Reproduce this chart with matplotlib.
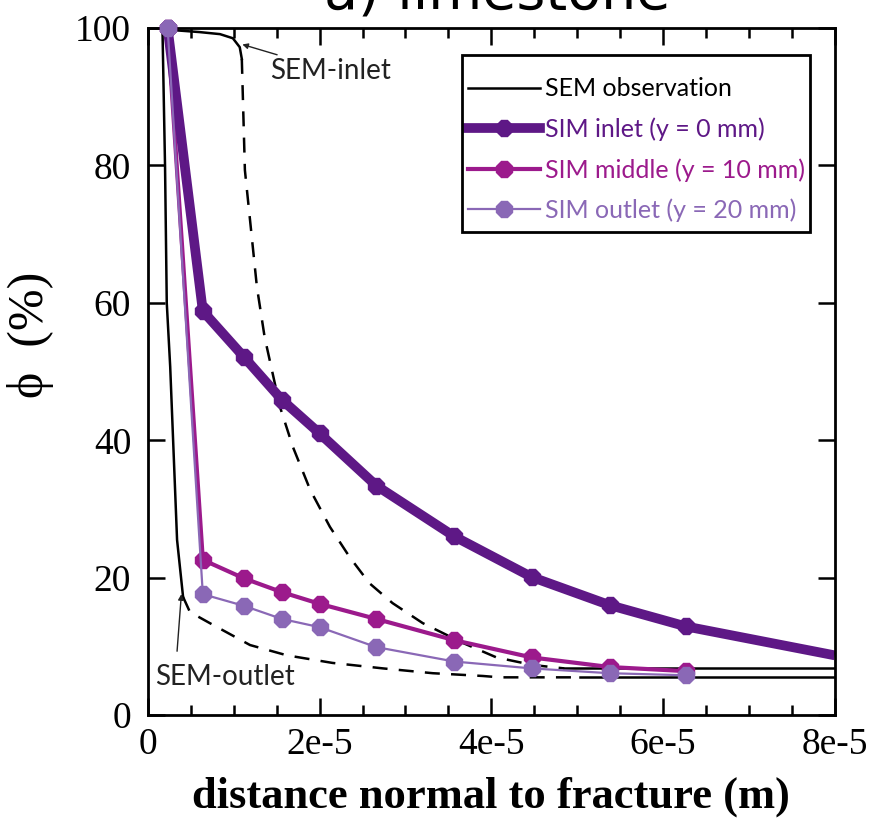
import numpy as np
import matplotlib
matplotlib.use("Agg")
import matplotlib.pyplot as plt
from matplotlib.patches import Rectangle
from matplotlib.ticker import MultipleLocator

# simulated porosity profiles (distance in m, porosity in %)
x_sim = [0.23e-5, 0.64e-5, 1.12e-5, 1.56e-5, 2.0e-5, 2.66e-5, 3.57e-5, 4.47e-5, 5.38e-5, 6.27e-5]
phi_inlet = [100, 58.8, 52.1, 45.9, 41.0, 33.4, 26.0, 20.1, 16.0, 12.9]
x_inlet_end = 8.0e-5
phi_inlet_end = 8.7
phi_middle = [100, 22.6, 19.9, 17.9, 16.2, 14.0, 10.9, 8.4, 7.0, 6.4]
phi_outlet = [100, 17.6, 15.9, 14.0, 12.8, 9.9, 7.8, 6.8, 6.1, 5.8]

# SEM observations: solid = measured part, dashed = extrapolated part
sem_in_x = [0.17e-5, 0.6e-5, 0.84e-5, 0.99e-5, 1.07e-5, 1.094e-5]
sem_in_y = [99.8, 99.4, 99.1, 98.5, 97.2, 95.5]
sem_in_dx = [1.094e-5, 1.13e-5, 1.21e-5, 1.27e-5, 1.36e-5, 1.54e-5, 1.69e-5, 1.89e-5, 2.12e-5,
             2.35e-5, 2.58e-5, 2.85e-5, 3.20e-5, 3.67e-5, 4.06e-5, 4.48e-5, 4.85e-5]
sem_in_dy = [95.5, 79.3, 69.6, 62.3, 55.0, 44.8, 39.0, 32.8, 27.4,
             23.0, 19.2, 16.3, 13.4, 10.5, 8.4, 7.3, 6.8]
sem_in_tail_x = [4.85e-5, 8.0e-5]
sem_in_tail_y = [6.8, 6.8]

sem_out_x = [0.17e-5, 0.20e-5, 0.22e-5, 0.26e-5, 0.34e-5, 0.41e-5]
sem_out_y = [99.8, 79.8, 60.0, 50.7, 25.5, 17.2]
sem_out_dx = [0.41e-5, 0.49e-5, 0.72e-5, 1.19e-5, 1.62e-5, 2.15e-5, 2.74e-5, 3.32e-5, 3.90e-5, 4.10e-5, 5.03e-5]
sem_out_dy = [17.2, 15.0, 13.4, 10.2, 8.7, 7.6, 6.8, 6.1, 5.7, 5.5, 5.5]
sem_out_tail_x = [5.03e-5, 8.0e-5]
sem_out_tail_y = [5.5, 5.5]

xticks = [0, 2e-5, 4e-5, 6e-5, 8e-5]
xticklabels = ["0", "2e-5", "4e-5", "6e-5", "8e-5"]
yticks = [0, 20, 40, 60, 80, 100]

c_inlet = "#5e1886"
c_middle = "#9c1a8c"
c_outlet = "#8a68b6"
c_note = "#222222"

serif = "Liberation Serif"
sans = "Lato"

fig = plt.figure(figsize=(8.75, 8.22), dpi=100)
ax = fig.add_axes([0.169, 0.130, 0.785, 0.836])

dash = (0, (6, 4.5))
# SEM lines
ax.plot(sem_in_x, sem_in_y, color="k", lw=1.8, label="SEM observation")
ax.plot(sem_in_dx, sem_in_dy, color="k", lw=1.8, ls=dash)
ax.plot(sem_in_tail_x, sem_in_tail_y, color="k", lw=1.8)
ax.plot(sem_out_x, sem_out_y, color="k", lw=1.8)
ax.plot(sem_out_dx, sem_out_dy, color="k", lw=1.8, ls=dash)
ax.plot(sem_out_tail_x, sem_out_tail_y, color="k", lw=1.8)

# simulations
ax.plot(x_sim[-1:] + [x_inlet_end], phi_inlet[-1:] + [phi_inlet_end], color=c_inlet, lw=7,
        solid_capstyle="butt", clip_on=False)
ax.plot(x_sim, phi_inlet, color=c_inlet, lw=7, marker="8", ms=13, label="SIM inlet (y = 0 mm)",
        clip_on=False, zorder=5)
ax.plot(x_sim, phi_middle, color=c_middle, lw=3, marker="8", ms=13, label="SIM middle (y = 10 mm)",
        clip_on=False, zorder=4)
ax.plot(x_sim, phi_outlet, color=c_outlet, lw=1.6, marker="8", ms=13, label="SIM outlet (y = 20 mm)",
        clip_on=False, zorder=6)

ax.set_xlim(0, 8e-5)
ax.set_ylim(0, 100)
ax.set_xticks(xticks)
ax.set_xticklabels(xticklabels)
ax.set_yticks(yticks)
ax.xaxis.set_minor_locator(MultipleLocator(0.5e-5))
ax.tick_params(which="both", direction="in", top=True, right=True, width=1.8, labelsize=27)
ax.tick_params(axis="x", pad=9)
ax.tick_params(axis="y", pad=12)
ax.tick_params(which="major", length=12)
ax.tick_params(which="minor", length=7)
for lab in ax.get_xticklabels() + ax.get_yticklabels():
    lab.set_fontfamily(serif)
for s in ax.spines.values():
    s.set_linewidth(2)

ax.set_xlabel("distance normal to fracture (m)", fontfamily=serif, fontweight="bold", fontsize=32, labelpad=10)
ax.set_ylabel("ϕ  (%)", fontfamily=serif, fontsize=36)
ax.yaxis.set_label_coords(-0.136, 0.553)

# legend: entries without frame, box drawn separately (wider vertical padding than horizontal)
leg = ax.legend(loc="upper left", bbox_to_anchor=(0.466, 0.928), prop={"family": sans, "size": 18},
                frameon=False, handlelength=2.9, handletextpad=0.2,
                borderpad=0, labelspacing=0.68, borderaxespad=0)
for txt, col in zip(leg.get_texts(), ["k", c_inlet, c_middle, c_outlet]):
    txt.set_color(col)
ax.add_patch(Rectangle((0.457, 0.703), 0.507, 0.258, transform=ax.transAxes, fill=False,
                       edgecolor="k", lw=2, zorder=7))

ax.annotate("SEM-inlet", xy=(1.1e-5, 97.6), xytext=(1.42e-5, 93.8), fontfamily=sans, fontsize=20,
            va="center", ha="left", color=c_note,
            arrowprops=dict(arrowstyle="-|>", color=c_note, lw=1, mutation_scale=8, shrinkA=0, shrinkB=0))
ax.text(0.9e-5, 5.6, "SEM-outlet", fontfamily=sans, fontsize=20, va="center", ha="center", color=c_note)
ax.annotate("", xy=(0.39e-5, 17.6), xytext=(0.34e-5, 9.3),
            arrowprops=dict(arrowstyle="-|>", color=c_note, lw=1, mutation_scale=8, shrinkA=0, shrinkB=0))

fig.text(0.568, 1 - 8 / 822, "a) limestone", ha="center", va="baseline", fontfamily="DejaVu Sans", fontsize=40)

fig.savefig("out.png", dpi=100)
